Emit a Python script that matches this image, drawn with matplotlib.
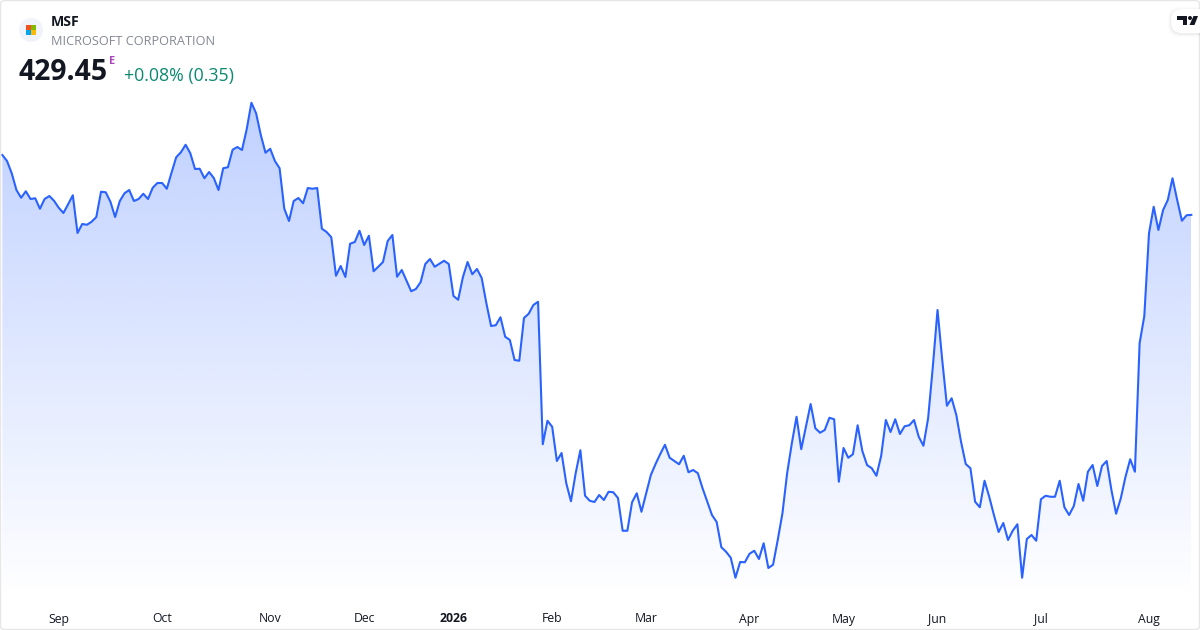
import numpy as np
import matplotlib
matplotlib.use('Agg')
import matplotlib.pyplot as plt
from matplotlib.patches import Circle, FancyBboxPatch, Polygon, Rectangle
from matplotlib.colors import to_rgb

plt.rcParams['font.family'] = ['Open Sans', 'DejaVu Sans']

# daily closes, Aug to Aug
prices_2025 = [
    453.4, 451.0, 446.1, 439.4, 436.3, 438.9, 435.8, 436.1, 431.9, 435.8,
    437.0, 435.1, 432.3, 430.2, 433.7, 437.3, 422.2, 425.8, 425.5, 426.7,
    428.6, 438.7, 438.5, 434.7, 428.6, 435.0, 438.1, 439.4, 435.0, 435.8,
    437.9, 435.8, 440.3, 442.2, 442.2, 439.9, 446.3, 452.5, 454.5, 457.5,
    454.1, 447.8, 447.9, 444.1, 446.6, 444.2, 439.4, 448.1, 448.5, 455.5,
    456.6, 455.4, 463.7, 474.3, 470.1, 461.4, 454.3, 455.9, 451.0, 448.1,
    431.9, 427.0, 435.0, 436.2, 434.1, 440.2, 439.9, 440.2, 423.9, 422.6,
    420.5, 405.1, 409.0, 404.6, 417.9, 418.6, 423.1, 417.4, 421.1, 406.9,
    408.7, 410.6, 419.0, 421.4, 404.7,
]
prices_winter = [
    407.4, 403.1, 398.9, 399.8, 402.5, 409.8, 411.8, 408.7, 409.9, 411.1,
    409.8, 397.0, 395.5, 404.5, 410.6, 405.7, 407.8, 404.2, 394.1, 385.0,
    385.3, 388.5, 380.7, 379.4, 371.4, 371.1, 388.2, 389.9, 393.4, 394.7,
    337.7, 347.1, 344.7, 331.0, 334.2, 322.1, 314.9, 326.1, 335.3, 317.1,
    315.1, 314.6, 317.4, 315.4, 318.7, 318.5, 316.2, 303.1, 303.1, 314.5,
    318.1, 310.7, 318.1, 325.4, 329.8, 333.8, 337.5, 332.3, 331.0, 329.7,
    333.1, 326.5, 327.4, 326.1, 320.1, 314.7, 309.4, 306.6, 296.5, 294.7,
    292.3, 284.3, 290.6, 290.5, 293.9, 295.1, 291.8, 298.1, 288.2, 289.5,
    299.4,
]
prices_2026 = [
    310.1, 326.1, 338.1, 348.7, 335.7, 344.7, 353.8, 344.1, 342.3, 343.4,
    348.3, 347.7, 322.7, 336.2, 332.3, 333.7, 345.3, 335.0, 329.4, 328.1,
    325.1, 333.0, 347.4, 342.6, 347.7, 341.8, 344.9, 345.3, 347.4, 340.7,
    337.1, 348.1, 368.7, 391.4, 371.4, 353.1, 356.1, 349.4, 338.7, 329.8,
    328.1, 314.7, 312.5, 323.1, 316.7, 309.4, 302.6, 306.2, 299.4, 303.1,
    305.7, 284.3, 299.8, 301.4, 299.1, 315.7, 317.1, 316.7, 316.7, 323.1,
    312.5, 309.4, 313.0, 321.8, 315.1, 326.7, 329.4, 321.0, 329.0, 331.0,
    319.4, 309.9, 316.1, 324.7, 331.7, 326.7, 378.1, 389.0, 422.1, 432.7,
    423.4, 431.4, 435.4, 444.1, 435.4, 427.1, 429.3, 429.45,
]
prices = np.array(prices_2025 + prices_winter + prices_2026)

month_labels = ['Sep', 'Oct', 'Nov', 'Dec', '2026', 'Feb', 'Mar', 'Apr', 'May', 'Jun', 'Jul', 'Aug']
month_ticks = [12, 34, 57, 77, 96, 117, 137, 159, 179, 199, 221, 244]

symbol = 'MSF'
company = 'MICROSOFT CORPORATION'
last_price = '429.45'
change_text = '+0.08% (0.35)'

LINE = '#2962FF'
W, H = 1200, 630


def px_axes(fig, left, top, right, bottom):
    return fig.add_axes([left / W, 1 - bottom / H, (right - left) / W, (bottom - top) / H])


fig = plt.figure(figsize=(12, 6.3), dpi=100, facecolor='white')

# chart area
ax = px_axes(fig, 2.33, 95, 1191.3, 600)
days = np.arange(len(prices))
ax.set_xlim(0, len(prices) - 1)
ax.set_ylim(275.4, 477.4)

rgba = np.zeros((256, 1, 4))
rgba[..., :3] = to_rgb(LINE)
rgba[:, 0, 3] = np.linspace(0.30, 0.0, 256)
grad = ax.imshow(rgba, extent=[0, len(prices) - 1, 275.4, 477.4], origin='upper',
                 aspect='auto', interpolation='bilinear', zorder=1)
clip = Polygon(np.column_stack([np.r_[days[0], days, days[-1]],
                                np.r_[275.4, prices, 275.4]]),
               closed=True, transform=ax.transData, facecolor='none', edgecolor='none')
ax.add_patch(clip)
grad.set_clip_path(clip)
ax.plot(days, prices, color=LINE, lw=1.5, solid_joinstyle='round', zorder=2, clip_on=False)

ax.set_xticks(month_ticks)
ax.set_xticklabels(month_labels, fontsize=8.8, color='#131722')
ax.get_xticklabels()[4].set_fontweight('bold')
ax.tick_params(axis='x', length=0, pad=9)
ax.set_yticks([])
for s in ax.spines.values():
    s.set_visible(False)
ax.patch.set_alpha(0)

# header, logo and frame in pixel coordinates
over = fig.add_axes([0, 0, 1, 1], zorder=5)
over.set_xlim(0, W)
over.set_ylim(H, 0)
over.axis('off')
over.patch.set_alpha(0)

over.add_patch(FancyBboxPatch((0.5, 0.5), W - 1, H - 1, boxstyle='round,pad=0,rounding_size=4',
                              fc='none', ec='#E6E6E6', lw=1))

over.add_patch(Circle((31, 30), 12, fc='#F0F3FA', ec='none'))
for (x0, y0), c in zip([(26, 25), (31.2, 25), (26, 30.2), (31.2, 30.2)],
                       ['#F25022', '#7FBA00', '#00A4EF', '#FFB900']):
    over.add_patch(Rectangle((x0, y0), 4.8, 4.8, fc=c, ec='none'))

over.text(51, 21.5, symbol, fontsize=10.2, fontweight='bold', color='#131722', va='center', ha='left')
over.text(51, 41.5, company, fontsize=9.2, color='#868993', va='center', ha='left')
over.text(18.5, 73, last_price, fontsize=20.4, fontweight='bold', color='#131722', va='center', ha='left')
over.text(109, 62, 'E', fontsize=7.8, fontweight='bold', color='#AB47BC', va='center', ha='left')
over.text(124, 76, change_text, fontsize=12.8, color='#0B8A70', va='center', ha='left')

# TradingView badge, runs off the right edge
for off, a in [(3, 0.012), (2, 0.02), (1, 0.03)]:
    over.add_patch(FancyBboxPatch((1171 - off, 10 - off), 40, 24 + 2 * off,
                                  boxstyle='round,pad=0,rounding_size=11',
                                  fc='black', ec='none', alpha=a))
over.add_patch(FancyBboxPatch((1171, 9), 40, 24, boxstyle='round,pad=0,rounding_size=11',
                              fc='white', ec='none'))
over.add_patch(Polygon([(1177, 16), (1187, 16), (1187, 25), (1182.5, 25), (1182.5, 20), (1177, 20)],
                       closed=True, fc='#131722', ec='none'))
over.add_patch(Circle((1190, 18), 2, fc='#131722', ec='none'))
over.add_patch(Polygon([(1189.5, 25), (1194.5, 25), (1198, 16), (1193.5, 16)],
                       closed=True, fc='#131722', ec='none'))

fig.savefig('out.png', dpi=100, facecolor='white')
